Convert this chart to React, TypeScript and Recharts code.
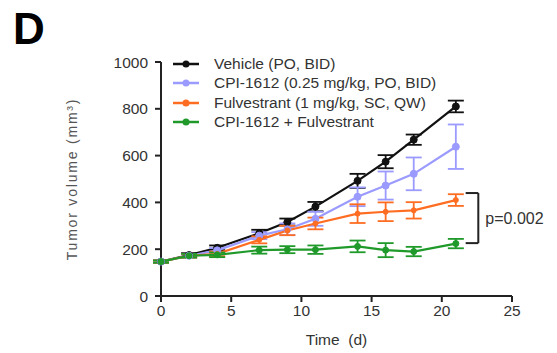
import { ErrorBar, Line, LineChart, ReferenceLine, XAxis, YAxis } from 'recharts';

const days = [0, 2, 4, 7, 9, 11, 14, 16, 18, 21];
const vehicle = [147, 175, 206, 268, 316, 382, 492, 574, 668, 810];
const vehicleErr = [5, 8, 10, 15, 15, 20, 30, 28, 22, 25];
const cpi = [147, 172, 195, 258, 285, 330, 424, 472, 522, 638];
const cpiErr = [5, 8, 10, 15, 25, 30, 40, 60, 70, 95];
const fulv = [147, 172, 180, 240, 280, 310, 352, 360, 366, 410];
const fulvErr = [5, 8, 10, 15, 20, 25, 40, 40, 35, 25];
const combo = [147, 172, 176, 196, 198, 198, 212, 196, 190, 224];
const comboErr = [5, 8, 10, 15, 15, 18, 25, 30, 20, 20];

const xTicks = [0, 5, 10, 15, 20, 25];
const yTicks = [0, 200, 400, 600, 800, 1000];

// bracket for the p-value annotation
const bracketX = [21.7, 22.6];
const bracketY = [440, 226];
const pLabel = 'p=0.002';

const series = [
	{ key: 'vehicle', name: 'Vehicle (PO, BID)', color: '#111111', r: 3.5 },
	{ key: 'cpi', name: 'CPI-1612 (0.25 mg/kg, PO, BID)', color: '#9a9aff', r: 3.5 },
	{ key: 'fulv', name: 'Fulvestrant (1 mg/kg, SC, QW)', color: '#ff6d22', r: 2.5 },
	{ key: 'combo', name: 'CPI-1612 + Fulvestrant', color: '#1f9a2a', r: 3 },
];

const chartData = days.map((d, i) => ({
	day: d,
	vehicle: vehicle[i],
	vehicleErr: vehicleErr[i],
	cpi: cpi[i],
	cpiErr: cpiErr[i],
	fulv: fulv[i],
	fulvErr: fulvErr[i],
	combo: combo[i],
	comboErr: comboErr[i],
}));

const FONT = '"Liberation Sans", Arial, sans-serif';

function LegendBox() {
	return (
		<div style={{ position: 'absolute', left: 172, top: 54, fontFamily: FONT, fontSize: 15.5, color: '#333' }}>
			{series.map((s) => (
				<div key={s.key} style={{ display: 'flex', alignItems: 'center', height: 19.5 }}>
					<svg width={28} height={12} style={{ marginRight: 14 }}>
						<line x1={1} y1={6} x2={27} y2={6} stroke={s.color} strokeWidth={2.5} />
						<circle cx={14} cy={6} r={3.5} fill={s.color} />
					</svg>
					<span>{s.name}</span>
				</div>
			))}
		</div>
	);
}

export default function App() {
	return (
		<div style={{ position: 'absolute', left: 0, top: 0, width: 557, height: 353, background: '#fff' }}>
			<div
				style={{
					position: 'absolute',
					left: 13,
					top: 4,
					fontFamily: FONT,
					fontWeight: 700,
					fontSize: 44,
					color: '#000',
				}}
			>
				D
			</div>
			<LineChart width={557} height={353} data={chartData} margin={{ top: 62, right: 45, bottom: 0, left: 0 }}>
				<XAxis
					dataKey="day"
					type="number"
					domain={[0, 25]}
					ticks={xTicks}
					height={57}
					stroke="#222"
					strokeWidth={2}
					tickSize={6}
					tickMargin={3}
					tick={{ fill: '#333', fontSize: 15.5, fontFamily: FONT }}
					label={{
						value: 'Time\u00a0\u00a0(d)',
						position: 'insideBottom',
						offset: 8,
						style: { fill: '#333', fontSize: 15.5, fontFamily: FONT },
					}}
				/>
				<YAxis
					type="number"
					domain={[0, 1000]}
					ticks={yTicks}
					width={161}
					stroke="#222"
					strokeWidth={2}
					tickSize={6}
					tickMargin={7}
					tick={{ fill: '#333', fontSize: 15.5, fontFamily: FONT }}
					label={{
						value: 'Tumor volume (mm³)',
						angle: -90,
						position: 'center',
						dx: -8,
						style: { fill: '#555', fontSize: 14, fontFamily: FONT, letterSpacing: 1.8, textAnchor: 'middle' },
					}}
				/>
				{series.map((s) => (
					<Line
						key={s.key}
						dataKey={s.key}
						name={s.name}
						stroke={s.color}
						strokeWidth={2.2}
						dot={{ r: s.r, fill: s.color, stroke: s.color, strokeWidth: 1 }}
						isAnimationActive={false}
					>
						<ErrorBar dataKey={`${s.key}Err`} width={8} stroke={s.color} strokeWidth={1.8} direction="y" />
					</Line>
				))}
				<ReferenceLine
					segment={[
						{ x: bracketX[0], y: bracketY[0] },
						{ x: bracketX[1], y: bracketY[0] },
					]}
					stroke="#222"
					strokeWidth={2}
					ifOverflow="visible"
				/>
				<ReferenceLine
					segment={[
						{ x: bracketX[0], y: bracketY[1] },
						{ x: bracketX[1], y: bracketY[1] },
					]}
					stroke="#222"
					strokeWidth={2}
					ifOverflow="visible"
				/>
				<ReferenceLine
					segment={[
						{ x: bracketX[1], y: bracketY[0] },
						{ x: bracketX[1], y: bracketY[1] },
					]}
					stroke="#222"
					strokeWidth={2}
					ifOverflow="visible"
					label={{ value: pLabel, position: 'right', offset: 7, style: { fill: '#333', fontSize: 16, fontFamily: FONT } }}
				/>
			</LineChart>
			<LegendBox />
		</div>
	);
}
